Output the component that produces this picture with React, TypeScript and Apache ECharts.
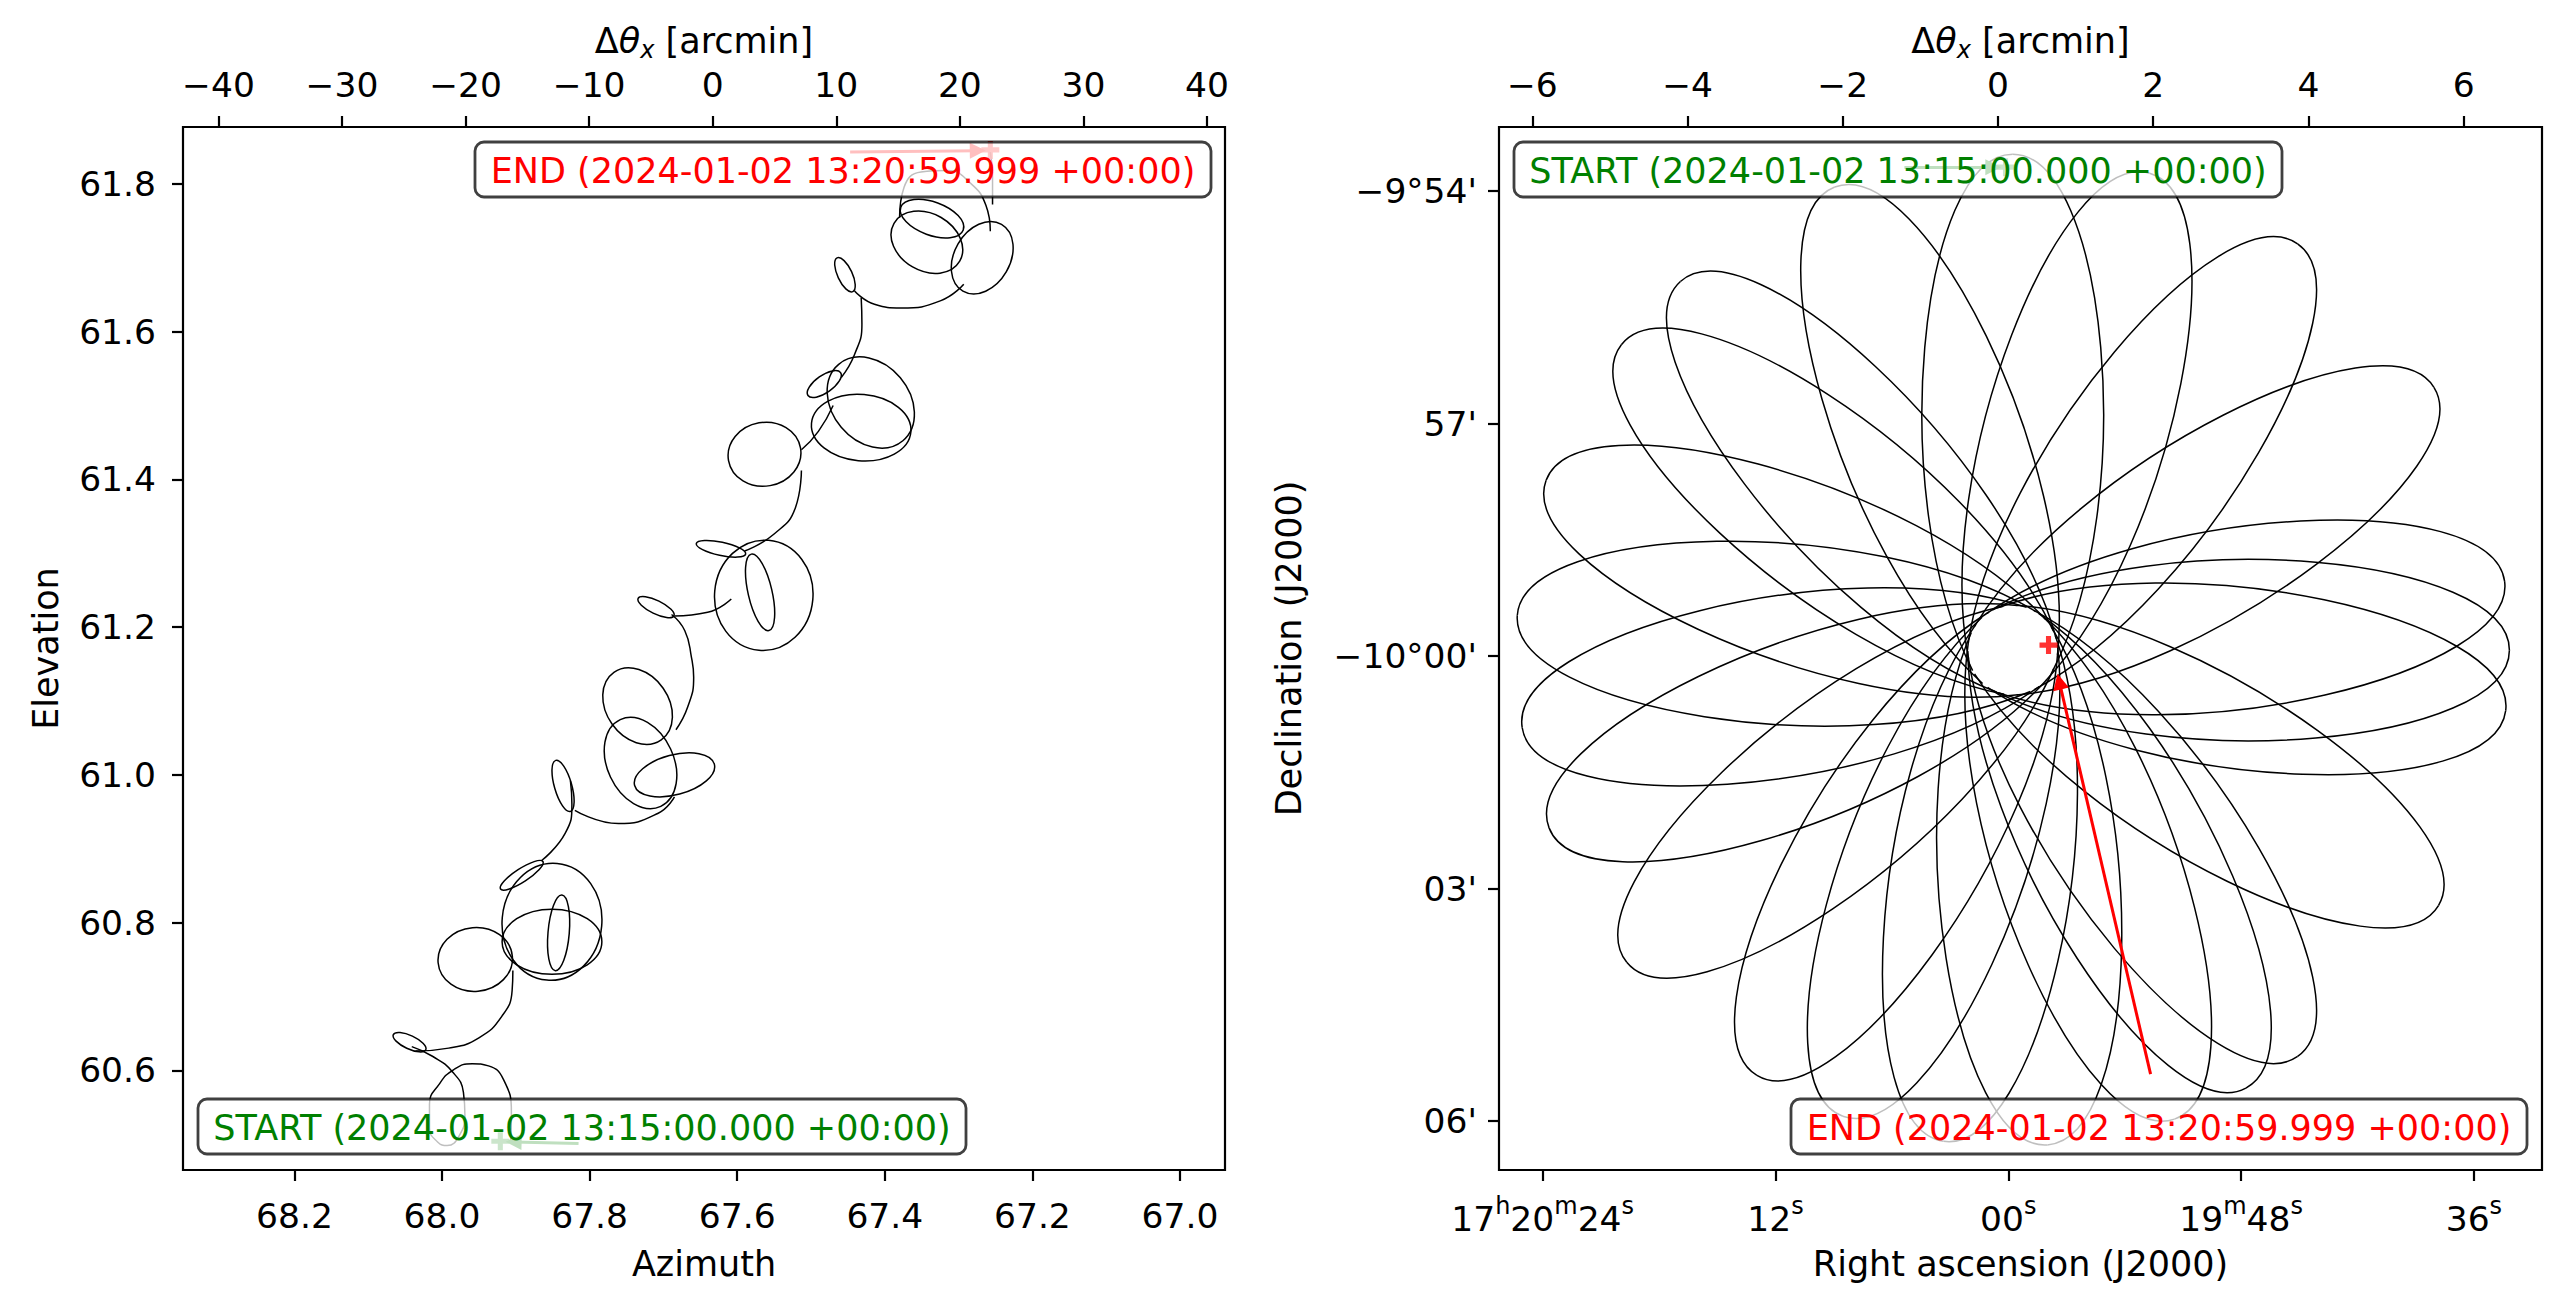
import { useEffect, useRef } from "react";
import * as echarts from "echarts";

const FONT = "DejaVu Sans";
const TICK_FS = 34.5;
const NAME_FS = 35;
const BOX_FS = 35;

// ---------------- Left panel: horizontal coordinates ----------------
const azTicks = [68.2, 68.0, 67.8, 67.6, 67.4, 67.2, 67.0];
const elTicks = [60.6, 60.8, 61.0, 61.2, 61.4, 61.6, 61.8];
const dThetaTicksL = [-40, -30, -20, -10, 0, 10, 20, 30, 40];
const azRange = [66.939, 68.351];
const elRange = [60.465, 61.877];
const dThetaRangeL = [-42.87, 41.46];

// open stretches of the scan track [azimuth, elevation] (deg)
const trackStart = [[67.907, 60.504], [67.906, 60.543], [67.917, 60.588], [67.937, 60.606], [67.959, 60.609], [67.984, 60.601], [68.004, 60.581], [68.017, 60.554], [68.017, 60.522], [68.006, 60.503], [67.993, 60.498], [67.977, 60.511], [67.969, 60.539], [67.971, 60.570], [67.986, 60.598], [68.013, 60.619], [68.041, 60.632]];
const trackRise1 = [[68.036, 60.626], [67.991, 60.630], [67.950, 60.644], [67.919, 60.673], [67.905, 60.708], [67.904, 60.735]];
const trackRise2 = [[67.865, 60.884], [67.833, 60.921], [67.824, 60.960], [67.826, 60.992]];
const trackSwing2 = [[67.820, 60.952], [67.761, 60.934], [67.707, 60.948], [67.685, 60.970]];
const trackFall3 = [[67.689, 61.217], [67.671, 61.195], [67.662, 61.159], [67.659, 61.132], [67.667, 61.092], [67.683, 61.061]];
const trackLink3 = [[67.685, 61.215], [67.640, 61.220], [67.608, 61.238]];
const trackRise3 = [[67.590, 61.303], [67.550, 61.326], [67.521, 61.362], [67.513, 61.412]];
const trackLink4 = [[67.513, 61.440], [67.490, 61.465], [67.470, 61.500]];
const trackRise4 = [[67.459, 61.538], [67.441, 61.569], [67.431, 61.610], [67.432, 61.646]];
const trackSwing5 = [[67.441, 61.655], [67.414, 61.637], [67.378, 61.632], [67.324, 61.642], [67.293, 61.664]];
const trackTop = [[67.380, 61.754], [67.374, 61.795], [67.351, 61.816], [67.315, 61.818], [67.284, 61.801], [67.263, 61.771], [67.257, 61.736]];
const trackEnd = [[67.254, 61.772], [67.254, 61.809], [67.257, 61.843]];

// loops of the scan track: centre az, el (deg), semi-axes (deg), tilt on the plot (deg)
const loopAzL = [68.044, 67.955, 67.851, 67.851, 67.842, 67.892, 67.836, 67.735, 67.731, 67.685, 67.710, 67.564, 67.569, 67.622, 67.563, 67.482, 67.432, 67.419, 67.454, 67.343, 67.336, 67.268];
const loopElL = [60.638, 60.750, 60.801, 60.774, 60.786, 60.864, 60.985, 61.093, 61.016, 61.000, 61.227, 61.243, 61.247, 61.306, 61.434, 61.529, 61.470, 61.504, 61.677, 61.721, 61.753, 61.700];
const loopAL = [0.0243, 0.0505, 0.0793, 0.0676, 0.0514, 0.0342, 0.0360, 0.0559, 0.0649, 0.0559, 0.0270, 0.0748, 0.0532, 0.0342, 0.0495, 0.0270, 0.0676, 0.0676, 0.0252, 0.0514, 0.0450, 0.0523];
const loopBL = [0.0090, 0.0432, 0.0676, 0.0441, 0.0144, 0.0090, 0.0117, 0.0423, 0.0450, 0.0270, 0.0090, 0.0667, 0.0162, 0.0090, 0.0432, 0.0117, 0.0450, 0.0523, 0.0099, 0.0387, 0.0225, 0.0378];
const loopTiltL = [-25, 5, 85, 0, 85, 33, 106, -55, -65, 15, -26, 85, 103, -12, 10, 35, -5, -50, 115, -30, -20, 60];

const startL = [67.921, 60.504];
const endL = [67.257, 61.846];
const startArrowL = [[67.815, 60.501], [67.903, 60.503]];
const endArrowL = [[67.447, 61.843], [67.274, 61.845]];

// ---------------- Right panel: sky coordinates ----------------
const raTicks = [24, 12, 0, -12, -24]; // seconds relative to 17h20m00s
const raTickLabels = ["{n|17}{s|h}{n|20}{s|m}{n|24}{s|s}", "{n|12}{s|s}", "{n|00}{s|s}", "{n|19}{s|m}{n|48}{s|s}", "{n|36}{s|s}"];
const decTicks = [6, 3, 0, -3, -6]; // arcmin relative to -10°00'
const decTickLabels = ["−9°54'", "57'", "−10°00'", "03'", "06'"];
const dThetaTicksR = [-6, -4, -2, 0, 2, 4, 6];
const raRange = [-27.51, 26.25];
const decRange = [-6.632, 6.826];
const dThetaRangeR = [-6.43, 7.01];

// daisy scan: direction of each petal tip (deg, counter-clockwise from +Δθx)
const petalDir = [90, 74, 55, 32, 8, 0, -7, -31, -55, -62, -71, -86, -98, -110, -121, -141, -159, -171, 176, 160, 142, 132, 111];
// daisy geometry (arcmin / deg)
const daisyCentre = [0.19, 0.076];
const holeRadius = 0.58;      // the track misses the centre by this much
const petalReach = 6.4;       // distance of petal tips from the centre
const petalEdgeAngle = 27;    // half opening of a petal near the centre
const petalEdgeCtrl = 2.5;    // straight run of the petal edges
const petalTipCtrl = 1.2;     // fullness of the petal near its tip

const startR = [0.097, 6.308];
const endR = [0.651, 0.141];
const startArrowR = [[-1.206, 6.308], [-0.06, 6.308]];
const endArrowR = [[1.966, -5.395], [0.79, -0.33]];

const minus = (v: number, d = 0) => (v < 0 ? "\u2212" + Math.abs(v).toFixed(d) : v.toFixed(d));

const PLUS = "path://M0 4.3H12V7.7H0Z M4.3 0H7.7V12H4.3Z";
const tickStyle = { show: true, length: 11, lineStyle: { color: "#000", width: 2.2 } };
const noLine = { show: false, onZero: false };

const thetaName = {
  color: "#000",
  rich: {
    d: { fontSize: NAME_FS, fontFamily: FONT, color: "#000", lineHeight: 42 },
    t: { fontSize: NAME_FS, fontFamily: FONT, fontStyle: "italic", color: "#000", lineHeight: 42 },
    s: { fontSize: 24, fontFamily: FONT, fontStyle: "italic", color: "#000", lineHeight: 26, verticalAlign: "bottom" },
  },
};

function box(x: number, y: number, w: number, h: number, text: string, color: string) {
  return {
    type: "group",
    z: 100,
    children: [
      {
        type: "rect", z: 100,
        shape: { x, y, width: w, height: h, r: 9 },
        style: { fill: "rgba(255,255,255,0.75)", stroke: "rgba(0,0,0,0.75)", lineWidth: 2.8 },
      },
      {
        type: "text", z: 101, x: x + w / 2, y: y + h / 2 + 1,
        style: { text, fill: color, font: `${BOX_FS}px ${FONT}`, align: "center", verticalAlign: "middle" },
      },
    ],
  };
}

const LW = 1.5;

const ellipseRenderer = (_p: any, api: any) => {
  const c = api.coord([api.value(0), api.value(1)]);
  const s = api.size([1, 1]);
  return {
    type: "ellipse",
    x: c[0], y: c[1],
    rotation: (api.value(4) * Math.PI) / 180,
    shape: { cx: 0, cy: 0, rx: api.value(2) * s[0], ry: api.value(3) * s[0] },
    style: { fill: "none", stroke: "#000", lineWidth: LW },
  };
};

const petalRenderer = (_p: any, api: any) => {
  const phi = (api.value(0) * Math.PI) / 180;
  const cu = Math.cos(phi), su = Math.sin(phi);
  const P = (u: number, v: number) => api.coord([daisyCentre[0] + u * cu - v * su, daisyCentre[1] + u * su + v * cu]);
  const ea = (petalEdgeAngle * Math.PI) / 180;
  const ce = Math.cos(ea), se = Math.sin(ea);
  const tu = -holeRadius * se, tv = holeRadius * ce; // where the edge grazes the hole
  const tip = P(petalReach, 0);
  const st = { fill: "none", stroke: "#000", lineWidth: LW };
  const kids: any[] = [];
  for (const sg of [1, -1]) {
    const p0 = P(tu, sg * tv);
    const p1 = P(tu + petalEdgeCtrl * ce, sg * (tv + petalEdgeCtrl * se));
    const p2 = P(petalReach, sg * petalTipCtrl);
    kids.push({ type: "bezierCurve", shape: { x1: p0[0], y1: p0[1], x2: tip[0], y2: tip[1], cpx1: p1[0], cpy1: p1[1], cpx2: p2[0], cpy2: p2[1] }, style: st });
  }
  return { type: "group", children: kids };
};

export default function App() {
  const ref = useRef<HTMLDivElement>(null);
  useEffect(() => {
    if (!ref.current) return;
    const chart = echarts.init(ref.current, undefined, { renderer: "svg" });
    const loopsL = loopAzL.map((v, i) => [v, loopElL[i], loopAL[i], loopBL[i], loopTiltL[i]]);
    const petals = petalDir.map((d) => [d, 0]);
    const tracks = [trackStart, trackRise1, trackRise2, trackSwing2, trackFall3, trackLink3, trackRise3, trackLink4, trackRise4, trackSwing5, trackTop, trackEnd];
    const option: any = {
      animation: false,
      backgroundColor: "#fff",
      textStyle: { fontFamily: FONT },
      grid: [
        { left: 183, top: 127, width: 1042, height: 1043, show: true, borderColor: "#000", borderWidth: 2.2, backgroundColor: "transparent" },
        { left: 1499, top: 127, width: 1043, height: 1043, show: true, borderColor: "#000", borderWidth: 2.2, backgroundColor: "transparent" },
      ],
      xAxis: [
        {
          type: "value", gridIndex: 0, position: "bottom", inverse: true,
          min: azRange[0], max: azRange[1],
          name: "Azimuth", nameLocation: "middle", nameGap: 76,
          nameTextStyle: { fontSize: NAME_FS, fontFamily: FONT, color: "#000" },
          axisLine: noLine, splitLine: { show: false },
          axisTick: { ...tickStyle, customValues: azTicks },
          axisLabel: { customValues: azTicks, formatter: (v: number) => v.toFixed(1), margin: 28, fontSize: TICK_FS, fontFamily: FONT, color: "#000" },
        },
        {
          type: "value", gridIndex: 0, position: "top",
          min: dThetaRangeL[0], max: dThetaRangeL[1],
          name: "{d|Δ}{t|θ}{s|x}{d| [arcmin]}", nameLocation: "middle", nameGap: 64,
          nameTextStyle: thetaName,
          axisLine: noLine, splitLine: { show: false },
          axisTick: { ...tickStyle, customValues: dThetaTicksL },
          axisLabel: { customValues: dThetaTicksL, formatter: (v: number) => minus(v), margin: 25, fontSize: TICK_FS, fontFamily: FONT, color: "#000" },
        },
        {
          type: "value", gridIndex: 1, position: "bottom", inverse: true,
          min: raRange[0], max: raRange[1],
          name: "Right ascension (J2000)", nameLocation: "middle", nameGap: 76,
          nameTextStyle: { fontSize: NAME_FS, fontFamily: FONT, color: "#000" },
          axisLine: noLine, splitLine: { show: false },
          axisTick: { ...tickStyle, customValues: raTicks },
          axisLabel: {
            customValues: raTicks,
            formatter: (v: number) => raTickLabels[raTicks.findIndex((t) => Math.abs(t - v) < 1e-6)] ?? "",
            margin: 24, color: "#000",
            rich: {
              n: { fontSize: TICK_FS, fontFamily: FONT, color: "#000", lineHeight: 42, verticalAlign: "bottom" },
              s: { fontSize: 24, fontFamily: FONT, color: "#000", lineHeight: 30, verticalAlign: "top" },
            },
          },
        },
        {
          type: "value", gridIndex: 1, position: "top",
          min: dThetaRangeR[0], max: dThetaRangeR[1],
          name: "{d|Δ}{t|θ}{s|x}{d| [arcmin]}", nameLocation: "middle", nameGap: 64,
          nameTextStyle: thetaName,
          axisLine: noLine, splitLine: { show: false },
          axisTick: { ...tickStyle, customValues: dThetaTicksR },
          axisLabel: { customValues: dThetaTicksR, formatter: (v: number) => minus(v), margin: 25, fontSize: TICK_FS, fontFamily: FONT, color: "#000" },
        },
      ],
      yAxis: [
        {
          type: "value", gridIndex: 0, position: "left",
          min: elRange[0], max: elRange[1],
          name: "Elevation", nameLocation: "middle", nameGap: 120,
          nameTextStyle: { fontSize: NAME_FS, fontFamily: FONT, color: "#000" },
          axisLine: noLine, splitLine: { show: false },
          axisTick: { ...tickStyle, customValues: elTicks },
          axisLabel: { customValues: elTicks, formatter: (v: number) => v.toFixed(1), margin: 27, fontSize: TICK_FS, fontFamily: FONT, color: "#000" },
        },
        {
          type: "value", gridIndex: 1, position: "left",
          min: decRange[0], max: decRange[1],
          name: "Declination (J2000)", nameLocation: "middle", nameGap: 193,
          nameTextStyle: { fontSize: NAME_FS, fontFamily: FONT, color: "#000" },
          axisLine: noLine, splitLine: { show: false },
          axisTick: { ...tickStyle, customValues: decTicks },
          axisLabel: {
            customValues: decTicks,
            formatter: (v: number) => decTickLabels[decTicks.findIndex((t) => Math.abs(t - v) < 1e-6)] ?? "",
            margin: 22, fontSize: TICK_FS, fontFamily: FONT, color: "#000",
          },
        },
      ],
      series: [
        ...tracks.map((t) => ({
          type: "line", xAxisIndex: 0, yAxisIndex: 0, data: t, smooth: 0.5,
          showSymbol: false, lineStyle: { color: "#000", width: LW }, z: 2, silent: true,
        })),
        {
          type: "custom", xAxisIndex: 0, yAxisIndex: 0, data: loopsL, clip: true, z: 2, silent: true,
          encode: { x: 0, y: 1 }, renderItem: ellipseRenderer,
        },
        {
          type: "custom", xAxisIndex: 3, yAxisIndex: 1, data: petals, clip: true, z: 2, silent: true,
          encode: { x: -1, y: -1 }, renderItem: petalRenderer,
        },
        {
          type: "lines", coordinateSystem: "cartesian2d", xAxisIndex: 0, yAxisIndex: 0, z: 3, silent: true,
          symbol: ["none", "triangle"], symbolSize: 16,
          data: [
            { coords: startArrowL, lineStyle: { color: "#008000", width: 3, opacity: 1 } },
            { coords: endArrowL, lineStyle: { color: "#ff0000", width: 3, opacity: 1 } },
          ],
        },
        {
          type: "lines", coordinateSystem: "cartesian2d", xAxisIndex: 3, yAxisIndex: 1, z: 3, silent: true,
          symbol: ["none", "triangle"], symbolSize: 16,
          data: [
            { coords: startArrowR, lineStyle: { color: "#008000", width: 3, opacity: 1 } },
            { coords: endArrowR, lineStyle: { color: "#ff0000", width: 3, opacity: 1 } },
          ],
        },
        {
          type: "scatter", xAxisIndex: 0, yAxisIndex: 0, symbol: PLUS, symbolSize: 18, z: 4, silent: true,
          data: [
            { value: startL, itemStyle: { color: "#008000" } },
            { value: endL, itemStyle: { color: "#ff0000" } },
          ],
        },
        {
          type: "scatter", xAxisIndex: 3, yAxisIndex: 1, symbol: PLUS, symbolSize: 18, z: 4, silent: true,
          data: [
            { value: startR, itemStyle: { color: "#008000" } },
            { value: endR, itemStyle: { color: "#ff0000" } },
          ],
        },
      ],
      graphic: [
        box(475, 142, 736, 55, "END (2024-01-02 13:20:59.999 +00:00)", "#ff0000"),
        box(198, 1099, 768, 55, "START (2024-01-02 13:15:00.000 +00:00)", "#008000"),
        box(1514, 142, 768, 55, "START (2024-01-02 13:15:00.000 +00:00)", "#008000"),
        box(1791, 1099, 736, 55, "END (2024-01-02 13:20:59.999 +00:00)", "#ff0000"),
      ],
    };
    chart.setOption(option);
    return () => chart.dispose();
  }, []);
  return <div ref={ref} style={{ position: "absolute", left: 0, top: 0, width: 2567, height: 1309, background: "#fff" }} />;
}
